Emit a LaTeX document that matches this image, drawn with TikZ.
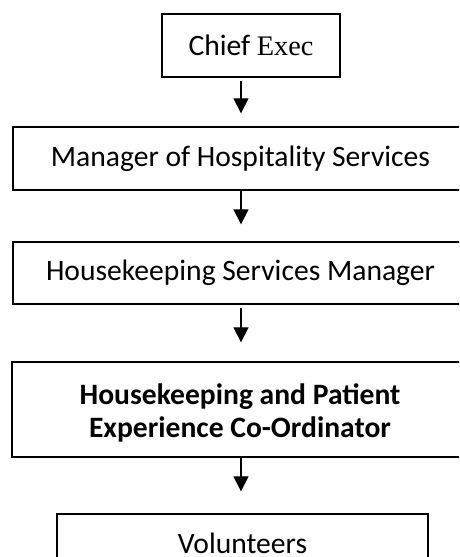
\documentclass[tikz,border=0pt]{standalone}
\usepackage{fontspec}
\setmainfont{Carlito}
\newfontfamily\timesfont{Liberation Serif}
\usetikzlibrary{arrows.meta}
\begin{document}
\begin{tikzpicture}[x=1pt,y=1pt,
  box/.style={draw=black, line width=1.3pt, inner sep=0pt, align=center,
    font=\fontsize{29.6}{29}\selectfont},
  arr/.style={line width=1.2pt, -{Triangle[width=15pt,length=15pt]}}]
\useasboundingbox (0,0) rectangle (459,-557);
\clip (0,0) rectangle (459,-557);
\coordinate (col) at (241,0);
\node[box, minimum width=178, minimum height=63] (ceo) at (251,-45.5)
  {Chief {\timesfont\fontsize{28.3}{29}\selectfont Exec}};
\node[box, minimum width=455, minimum height=63] (mhs) at (240.5,-158.5) {Manager of Hospitality Services};
\node[box, minimum width=455, minimum height=62] (hsm) at (240.5,-273) {Housekeeping Services Manager};
\node[box, minimum width=456, minimum height=95] (hpe) at (240,-409.5)
  {\parbox[c][95pt][t]{420pt}{\vspace*{22pt}\centering\bfseries\fontsize{29.6}{33}\selectfont
    Housekeeping and Patient\\Experience Co-Ordinator\par}};
\node[box, minimum width=371, minimum height=58, text height=20pt, text depth=0pt] (vol) at (242.5,-543) {Volunteers};
\draw[arr, shorten <=3pt, shorten >=13pt] (ceo.south -| col) -- (mhs.north -| col);
\draw[arr, shorten <=0pt, shorten >=17pt] (mhs.south -| col) -- (hsm.north -| col);
\draw[arr, shorten <=3pt, shorten >=19pt] (hsm.south -| col) -- (hpe.north -| col);
\draw[arr, shorten <=0pt, shorten >=22pt] (hpe.south -| col) -- (vol.north -| col);
\end{tikzpicture}
\end{document}
